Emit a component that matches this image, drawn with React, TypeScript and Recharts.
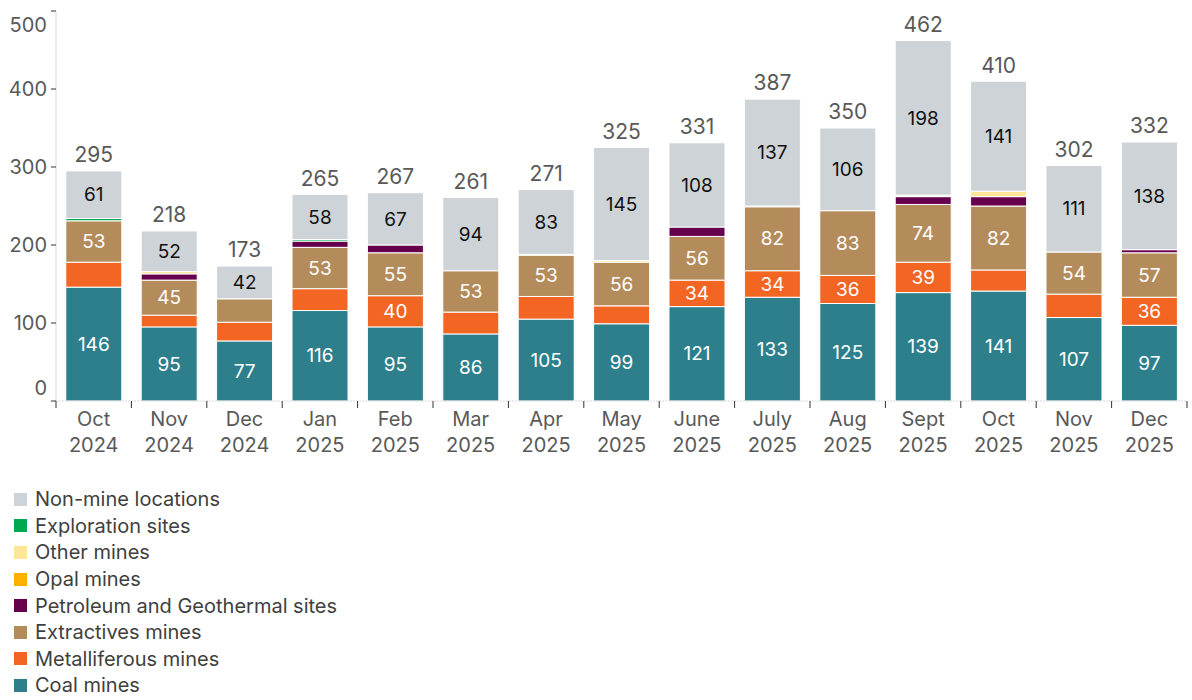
import React from "react";
import { BarChart, Bar, XAxis, YAxis, LabelList } from "recharts";

const months = [
  "Oct 2024", "Nov 2024", "Dec 2024", "Jan 2025", "Feb 2025", "Mar 2025", "Apr 2025", "May 2025",
  "June 2025", "July 2025", "Aug 2025", "Sept 2025", "Oct 2025", "Nov 2025", "Dec 2025",
];
const coal = [146, 95, 77, 116, 95, 86, 105, 99, 121, 133, 125, 139, 141, 107, 97];
const metalliferous = [32, 15, 24, 28, 40, 28, 29, 23, 34, 34, 36, 39, 27, 30, 36];
const extractives = [53, 45, 30, 53, 55, 53, 53, 56, 56, 82, 83, 74, 82, 54, 57];
const petroleum = [0, 8, 0, 8, 10, 0, 0, 0, 12, 0, 0, 10, 12, 0, 4];
const opal = [0, 0, 0, 0, 0, 0, 0, 0, 0, 0, 0, 0, 0, 0, 0];
const otherMines = [0, 3, 0, 0, 0, 0, 1, 2, 0, 1, 0, 2, 7, 0, 0];
const exploration = [3, 0, 0, 2, 0, 0, 0, 0, 0, 0, 0, 0, 0, 0, 0];
const nonMine = [61, 52, 42, 58, 67, 94, 83, 145, 108, 137, 106, 198, 141, 111, 138];
const yTicks = [0, 100, 200, 300, 400, 500];

const series = [
  { key: "coal", name: "Coal mines", color: "#2E7F8C", values: coal, labelColor: "#ffffff" },
  { key: "metalliferous", name: "Metalliferous mines", color: "#F26522", values: metalliferous, labelColor: "#ffffff" },
  { key: "extractives", name: "Extractives mines", color: "#B48C5C", values: extractives, labelColor: "#ffffff" },
  { key: "petroleum", name: "Petroleum and Geothermal sites", color: "#66004C", values: petroleum, labelColor: "#ffffff" },
  { key: "opal", name: "Opal mines", color: "#FFB000", values: opal, labelColor: "#000000" },
  { key: "other", name: "Other mines", color: "#FFE699", values: otherMines, labelColor: "#000000" },
  { key: "exploration", name: "Exploration sites", color: "#00A94F", values: exploration, labelColor: "#ffffff" },
  { key: "nonmine", name: "Non-mine locations", color: "#CED3D7", values: nonMine, labelColor: "#111111" },
];

const data = months.map((m, i) => {
  const row: any = { label: m };
  series.forEach((s) => (row[s.key] = s.values[i]));
  row.total = series.reduce((acc, s) => acc + s.values[i], 0);
  return row;
});

const FONT = "Inter, 'Noto Sans', sans-serif";
const W = 1192;
const H = 462;
const M = { top: 11, right: 5, left: 0, bottom: 0 };
const Y_W = 56;
const BAND = (W - M.left - M.right - Y_W) / months.length;

const YTick = (props: any) => {
  const { x, y, payload } = props;
  let shift = 0;
  if (payload.value === 0) shift = -13;
  if (payload.value === 500) shift = 14;
  return (
    <text x={x - 2} y={y + shift} dy="0.35em" textAnchor="end" fontSize={20} fill="#595959" fontFamily={FONT}>
      {payload.value}
    </text>
  );
};

const XTick = (props: any) => {
  const { x, y, payload, index } = props;
  const parts = String(payload.value).split(" ");
  const left = x - BAND / 2;
  const right = x + BAND / 2;
  return (
    <g>
      <line x1={left} x2={left} y1={y} y2={y + 7} stroke="#333" strokeWidth={1} />
      {index === months.length - 1 && <line x1={right} x2={right} y1={y} y2={y + 7} stroke="#333" strokeWidth={1} />}
      <text x={x} y={y + 18} dy="0.35em" textAnchor="middle" fontSize={20} fill="#595959" fontFamily={FONT}>
        {parts[0]}
      </text>
      <text x={x} y={y + 44} dy="0.35em" textAnchor="middle" fontSize={20} fill="#595959" fontFamily={FONT}>
        {parts[1]}
      </text>
    </g>
  );
};

const makeInside = (color: string) => (props: any) => {
  const { x, y, width, height, value } = props;
  if (value == null || value < 34) return null;
  return (
    <text x={x + width / 2} y={y + height / 2} dy="0.35em" textAnchor="middle" fontSize={19} fill={color} fontFamily={FONT}>
      {value}
    </text>
  );
};

const TotalLabel = (props: any) => {
  const { x, y, width, index } = props;
  return (
    <text x={x + width / 2} y={y - 16} dy="0.35em" textAnchor="middle" fontSize={21} fill="#595959" fontFamily={FONT}>
      {data[index].total}
    </text>
  );
};

export default function App() {
  const legendItems = [...series].reverse();
  return (
    <div style={{ position: "absolute", left: 0, top: 0, width: W, height: 700, background: "#fff", fontFamily: FONT }}>
      <BarChart width={W} height={H} data={data} margin={M} barCategoryGap="13%">
        <YAxis
          type="number"
          domain={[0, 500]}
          ticks={yTicks}
          width={Y_W}
          axisLine={{ stroke: "#d9d9d9" }}
          tickLine={{ stroke: "#333" }}
          tickSize={5}
          tick={<YTick />}
          interval={0}
        />
        <XAxis
          dataKey="label"
          height={H - 401}
          axisLine={{ stroke: "#d9d9d9", strokeDasharray: "2 1" }}
          tickLine={false}
          tickSize={0}
          tickMargin={0}
          interval={0}
          tick={<XTick />}
        />
        {series.map((s) => (
          <Bar key={s.key} dataKey={s.key} name={s.name} stackId="a" fill={s.color} stroke="#ffffff" strokeWidth={1} isAnimationActive={false}>
            {(s.key === "coal" || s.key === "metalliferous" || s.key === "extractives" || s.key === "nonmine") && (
              <LabelList dataKey={s.key} content={makeInside(s.labelColor)} />
            )}
            {s.key === "nonmine" && <LabelList dataKey={s.key} content={<TotalLabel />} />}
          </Bar>
        ))}
      </BarChart>
      <div style={{ position: "absolute", left: 14, top: 486 }}>
        {legendItems.map((s) => (
          <div key={s.key} style={{ display: "flex", alignItems: "center", height: 26.6 }}>
            <span style={{ display: "inline-block", width: 13, height: 13, background: s.color, marginRight: 8 }} />
            <span style={{ fontSize: 20, color: "#404040", lineHeight: "26px" }}>{s.name}</span>
          </div>
        ))}
      </div>
    </div>
  );
}
